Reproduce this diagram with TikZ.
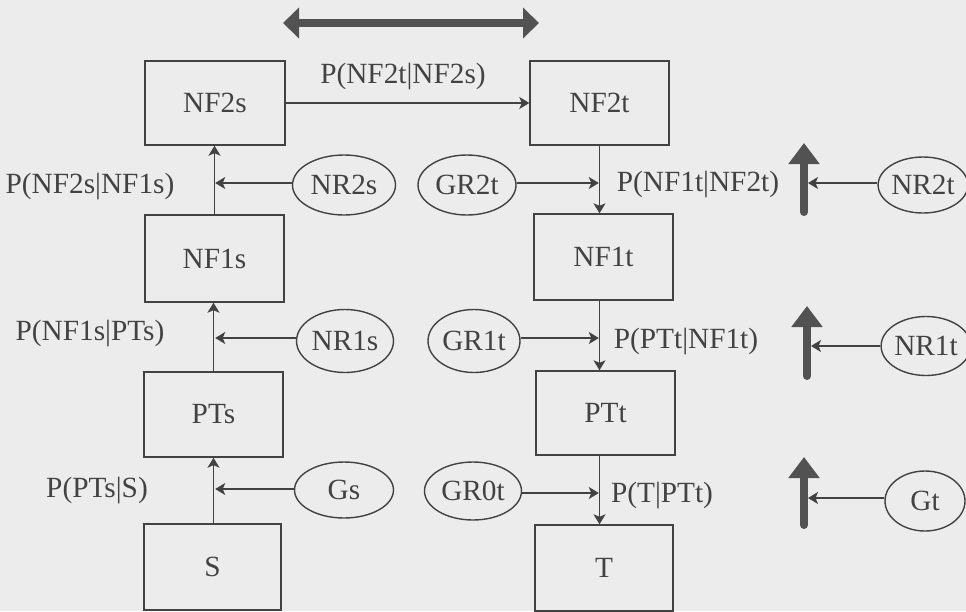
\documentclass[tikz,border=0pt]{standalone}
\usepackage{fontspec}
\setmainfont{Liberation Serif}
\usetikzlibrary{arrows.meta,shapes.geometric}
\definecolor{paper}{RGB}{236,236,236}
\definecolor{ink}{RGB}{66,66,66}
\definecolor{heavy}{RGB}{82,82,82}
\begin{document}
\begin{tikzpicture}[x=1pt,y=-1pt,
  txt/.style={font=\fontsize{29.3}{32}\selectfont,text=ink},
  box/.style={txt,draw=ink,line width=1.4pt,minimum width=139pt,minimum height=85pt,inner sep=0pt},
  oval/.style={txt,ellipse,draw=ink,line width=1.4pt,inner sep=0pt},
  lbl/.style={txt,inner sep=0pt,anchor=base},
  conn/.style={draw=ink,line width=1.4pt,-{Stealth[length=10pt,width=12pt,inset=2.5pt]}},
  bigarrow/.style={draw=heavy,line width=8pt,line cap=round,-{Triangle[length=21pt,width=30pt]}},
  bigdouble/.style={draw=heavy,line width=8pt,{Triangle[length=16pt,width=30pt]}-{Triangle[length=16pt,width=30pt]}}
]
\fill[paper] (0,0) rectangle (966,611);
\useasboundingbox (0,0) rectangle (966,611);

% boxes
\node[box,minimum width=140pt,minimum height=84pt] (NF2s) at (215,103) {NF2s};
\node[box,minimum height=87pt] (NF1s) at (214.5,258.5) {NF1s};
\node[box] (PTs) at (213.5,414.5) {PTs};
\node[box,minimum width=137pt,minimum height=86pt] (S) at (212.5,567) {S};
\node[box,minimum height=84pt] (NF2t) at (599.5,103) {NF2t};
\node[box,minimum height=86pt] (NF1t) at (603.5,257) {NF1t};
\node[box,minimum height=84pt] (PTt) at (605.5,413) {PTt};
\node[box,minimum width=138pt,minimum height=86pt] (T) at (604,568) {T};

% ellipses
\node[oval,minimum width=103pt,minimum height=60pt] (NR2s) at (344,185) {NR2s};
\node[oval,minimum width=98pt,minimum height=60pt] (GR2t) at (467,185) {GR2t};
\node[oval,minimum width=80pt,minimum height=56pt] (NR2t) at (923,185) {NR2t};
\node[oval,minimum width=97pt,minimum height=63pt] (NR1s) at (345,341) {NR1s};
\node[oval,minimum width=92pt,minimum height=63pt] (GR1t) at (474,341) {GR1t};
\node[oval,minimum width=78pt,minimum height=59pt] (NR1t) at (926,346) {NR1t};
\node[oval,minimum width=99pt,minimum height=56pt] (Gs) at (344,490) {Gs};
\node[oval,minimum width=97pt,minimum height=58pt] (GR0t) at (473,491) {GR0t};
\node[oval,minimum width=80pt,minimum height=60pt] (Gt) at (925,501) {Gt};

% labels
\node[lbl] (l1) at (403,83) {P(NF2t|NF2s)};
\node[lbl] (l2) at (90,193) {P(NF2s|NF1s)};
\node[lbl] (l3) at (698,191) {P(NF1t|NF2t)};
\node[lbl] (l4) at (90,340) {P(NF1s|PTs)};
\node[lbl] (l5) at (686,348) {P(PTt|NF1t)};
\node[lbl] (l6) at (97,497) {P(PTs|S)};
\node[lbl] (l7) at (662,502) {P(T|PTt)};

% thick arrows
\coordinate (dl) at (283,23);
\coordinate (dr) at (539,23);
\draw[bigdouble] (dl) -- (dr);
\coordinate (a1b) at (804,212); \coordinate (a1t) at (804,143);
\coordinate (a2b) at (807,376); \coordinate (a2t) at (807,306);
\coordinate (a3b) at (804,525); \coordinate (a3t) at (804,457);
\draw[bigarrow] (a1b) -- (a1t);
\draw[bigarrow] (a2b) -- (a2t);
\draw[bigarrow] (a3b) -- (a3t);

% vertical connectors
\draw[conn] (NF1s.north) -- (NF1s.north |- NF2s.south);
\draw[conn] (PTs.north) -- (PTs.north |- NF1s.south);
\draw[conn] (S.north -| PTs.south) -- (PTs.south);
\draw[conn] (NF2t.south -| NF2t.south) -- (NF2t.south |- NF1t.north);
\draw[conn] (NF1t.south -| NF2t.south) -- (NF2t.south |- PTt.north);
\draw[conn] (PTt.south -| NF2t.south) -- (NF2t.south |- T.north);

% horizontal connectors
\draw[conn] (NF2s.east) -- (NF2s.east -| NF2t.west);
\draw[conn,shorten >=0.7pt] (NR2s.west |- 0,183) -- (NF1s.north |- 0,183);
\draw[conn,shorten >=0.7pt] (NR1s.west |- 0,338) -- (NF1s.north |- 0,338);
\draw[conn,shorten >=0.7pt] (Gs.west |- 0,489) -- (NF1s.north |- 0,489);
\draw[conn,shorten >=0.7pt] (GR2t.east |- 0,183) -- (NF2t.south |- 0,183);
\draw[conn,shorten >=0.7pt] (GR1t.east |- 0,338) -- (NF2t.south |- 0,338);
\draw[conn,shorten >=0.7pt] (GR0t.east |- 0,493) -- (NF2t.south |- 0,493);
\draw[conn,shorten >=4pt] (NR2t.west |- 0,183) -- (a1b |- 0,183);
\draw[conn,shorten >=4pt] (NR1t.west |- 0,346) -- (a2b |- 0,346);
\draw[conn,shorten >=4pt] (Gt.west |- 0,498) -- (a3b |- 0,498);
\end{tikzpicture}
\end{document}
